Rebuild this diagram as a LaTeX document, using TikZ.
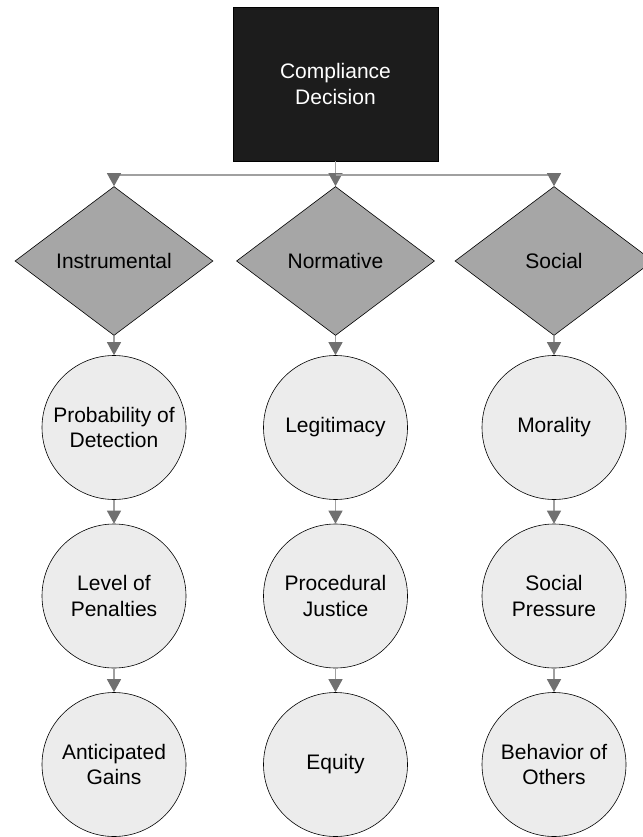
\documentclass[tikz,border=0pt]{standalone}
\usepackage{fontspec}
\setmainfont{Liberation Sans}
\usetikzlibrary{shapes.geometric,arrows.meta}
\definecolor{boxblack}{HTML}{1C1C1C}
\definecolor{diamondgray}{HTML}{A6A6A6}
\definecolor{circlegray}{HTML}{ECECEC}
\definecolor{linegray}{HTML}{A0A0A0}
\definecolor{tipgray}{HTML}{707070}

\begin{document}
\begin{tikzpicture}[x=1pt,y=-1pt,
	every node/.style={black,font=\fontsize{21}{25.5}\selectfont,align=center},
	decisionbox/.style={rectangle,draw=black,fill=boxblack,text=white,minimum width=205pt,minimum height=154pt,inner sep=0pt},
	factor/.style={diamond,draw=black,fill=diamondgray,minimum width=198pt,minimum height=149pt,inner sep=0pt,line width=0.6pt},
	item/.style={circle,draw=black,fill=circlegray,minimum size=144pt,inner sep=2pt,line width=0.6pt},
	link/.style={draw=linegray,line width=1.2pt},
	flow/.style={link,-{Triangle[width=14pt,length=13pt,color=tipgray]}}]
	\useasboundingbox (0,0) rectangle (642,837);

%	top
	\node[decisionbox] (decision) at (335.5,84) {Compliance\\Decision};
	\coordinate (split) at (335.5,175);

%	factors
	\node[factor] (instr)  at (114,261)   {Instrumental};
	\node[factor] (norm)   at (335.5,261) {Normative};
	\node[factor] (social) at (554,261)   {Social};

%	column 1
	\node[item] (prob)  at (114,427.5) {Probability of\\Detection};
	\node[item] (level) at (114,596)   {Level of\\Penalties};
	\node[item] (gains) at (114,764.5) {Anticipated\\Gains};

%	column 2
	\node[item] (legit)  at (335.5,427.5) {Legitimacy};
	\node[item] (proc)   at (335.5,596)   {Procedural\\Justice};
	\node[item] (equity) at (335.5,764.5) {Equity};

%	column 3
	\node[item] (moral)  at (554,427.5) {Morality};
	\node[item] (press)  at (554,596)   {Social\\Pressure};
	\node[item] (others) at (554,764.5) {Behavior of\\Others};

	\draw[link] (decision.south) -- (split);
	\draw[flow] (split) -| (instr.north);
	\draw[flow] (split) -- (norm.north);
	\draw[flow] (split) -| (social.north);

	\draw[flow] (instr.south) -- (prob.north);
	\draw[flow] (prob.south) -- (level.north);
	\draw[flow] (level.south) -- (gains.north);

	\draw[flow] (norm.south) -- (legit.north);
	\draw[flow] (legit.south) -- (proc.north);
	\draw[flow] (proc.south) -- (equity.north);

	\draw[flow] (social.south) -- (moral.north);
	\draw[flow] (moral.south) -- (press.north);
	\draw[flow] (press.south) -- (others.north);
\end{tikzpicture}
\end{document}
